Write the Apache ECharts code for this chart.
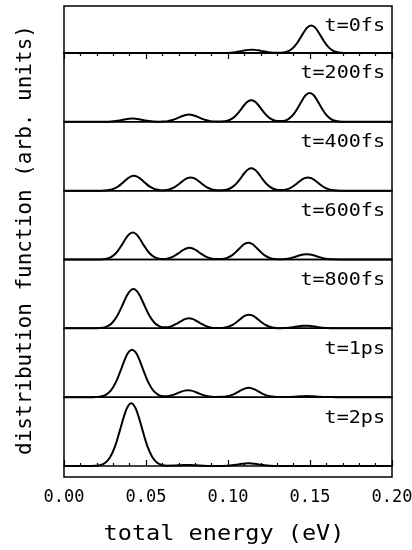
<!DOCTYPE html>
<html><head><meta charset="utf-8">
<script src="https://cdn.jsdelivr.net/npm/echarts@6/dist/echarts.min.js"></script>
<style>html,body{margin:0;padding:0;background:#fff}#c{width:412px;height:550px}</style>
</head><body><div id="c"></div>
<script>
// panel labels (top to bottom)
const panelLabels = ['t=0fs','t=200fs','t=400fs','t=600fs','t=800fs','t=1ps','t=2ps'];
// [total energy (eV), distribution function (arb. units; one panel height = 100)]
const f0fs = [[0,0],[0.0945,0],[0.0985,0.13],[0.1015,0.46],[0.1045,1.2],[0.1075,2.43],[0.1105,3.84],[0.1125,4.54],[0.1145,4.8],[0.1165,4.54],[0.1185,3.84],[0.1215,2.43],[0.1245,1.2],[0.1275,0.46],[0.1305,0.3],
  [0.1347,1.1],[0.1377,3.84],[0.1407,9.96],[0.1437,20.2],[0.1467,32.0],[0.1487,37.8],[0.1507,40],[0.1527,37.8],[0.1547,32.0],[0.1577,20.2],[0.1607,9.96],[0.1637,3.84],[0.1667,1.12],[0.1707,0.1],[0.2,0]];
const f200fs = [[0,0],[0.0217,0],[0.0257,0.13],[0.0287,0.46],[0.0317,1.2],[0.0347,2.43],[0.0377,3.84],[0.0397,4.54],[0.0417,4.8],[0.0437,4.54],[0.0457,3.84],[0.0487,2.43],[0.0517,1.2],[0.0547,0.46],[0.0577,0.22],
  [0.0602,0.34],[0.0632,1.02],[0.0662,2.64],[0.0692,5.36],[0.0722,8.49],[0.0742,10.03],[0.0762,10.6],[0.0782,10.03],[0.0802,8.49],[0.0832,5.36],[0.0862,2.64],[0.0892,1.02],[0.0922,0.34],
  [0.0982,0.89],[0.1012,3.01],[0.1042,7.82],[0.1072,15.9],[0.1102,25.2],[0.1122,29.7],[0.1142,31.4],[0.1162,29.7],[0.1182,25.2],[0.1212,15.9],[0.1242,7.82],[0.1272,3.01],[0.1302,1.08],
  [0.1338,1.33],[0.1368,4.03],[0.1398,10.5],[0.1428,21.3],[0.1458,33.6],[0.1478,39.7],[0.1498,42],[0.1518,39.7],[0.1538,33.6],[0.1568,21.3],[0.1598,10.5],[0.1628,4.03],[0.1658,1.18],[0.1698,0.1],[0.2,0]];
const f400fs = [[0,0],[0.0226,0],[0.0266,0.61],[0.0296,2.08],[0.0326,5.40],[0.0356,11.0],[0.0386,17.4],[0.0406,20.5],[0.0426,21.7],[0.0446,20.5],[0.0466,17.4],[0.0496,11.0],[0.0526,5.40],[0.0556,2.08],[0.0586,0.77],
  [0.0612,0.72],[0.0642,1.85],[0.0672,4.81],[0.0702,9.77],[0.0732,15.5],[0.0752,18.3],[0.0772,19.3],[0.0792,18.3],[0.0812,15.5],[0.0842,9.77],[0.0872,4.81],[0.0902,1.85],[0.0932,0.61],
  [0.0982,0.95],[0.1012,3.11],[0.1042,8.07],[0.1072,16.4],[0.1102,26.0],[0.1122,30.7],[0.1142,32.4],[0.1162,30.7],[0.1182,26.0],[0.1212,16.4],[0.1242,8.07],[0.1272,3.11],[0.1302,1.08],
  [0.1327,0.82],[0.1357,1.85],[0.1387,4.81],[0.1417,9.77],[0.1447,15.5],[0.1467,18.3],[0.1487,19.3],[0.1507,18.3],[0.1527,15.5],[0.1557,9.77],[0.1587,4.81],[0.1617,1.85],[0.1647,0.54],[0.1687,0],[0.2,0]];
const f600fs = [[0,0],[0.0219,0],[0.0259,1.09],[0.0289,3.75],[0.0319,9.74],[0.0349,19.8],[0.0379,31.3],[0.0399,37.0],[0.0419,39.1],[0.0439,37.0],[0.0459,31.3],[0.0489,19.8],[0.0519,9.74],[0.0549,3.75],[0.0579,1.23],
  [0.0605,0.79],[0.0635,1.62],[0.0665,4.21],[0.0695,8.55],[0.0725,13.5],[0.0745,16.0],[0.0765,16.9],[0.0785,16.0],[0.0805,13.5],[0.0835,8.55],[0.0865,4.21],[0.0895,1.62],[0.0925,0.57],
  [0.0964,0.75],[0.0994,2.32],[0.1024,6.03],[0.1054,12.2],[0.1084,19.4],[0.1104,22.9],[0.1124,24.2],[0.1144,22.9],[0.1164,19.4],[0.1194,12.2],[0.1224,6.03],[0.1254,2.32],[0.1284,0.72],
  [0.132,0.34],[0.135,0.74],[0.138,1.92],[0.141,3.90],[0.144,6.17],[0.146,7.28],[0.148,7.7],[0.150,7.28],[0.152,6.17],[0.155,3.90],[0.158,1.92],[0.161,0.74],[0.164,0.22],[0.168,0],[0.2,0]];
const f800fs = [[0,0],[0.0183,0],[0.0203,0.19],[0.0233,0.80],[0.0263,2.74],[0.0293,7.70],[0.0323,17.4],[0.0353,31.9],[0.0383,47.2],[0.0403,54.4],[0.0423,57],[0.0443,54.4],[0.0463,47.2],[0.0493,31.9],[0.0523,17.4],[0.0553,7.70],[0.0583,2.91],
  [0.0602,1.70],[0.0632,1.71],[0.0662,3.68],[0.0692,7.34],[0.0722,11.6],[0.0742,13.7],[0.0762,14.5],[0.0782,13.7],[0.0802,11.6],[0.0832,7.34],[0.0862,3.61],[0.0892,1.39],[0.0922,0.46],
  [0.0968,0.59],[0.0998,1.90],[0.1028,4.93],[0.1058,10.0],[0.1088,15.9],[0.1108,18.7],[0.1128,19.8],[0.1148,18.7],[0.1168,15.9],[0.1198,10.0],[0.1228,4.93],[0.1258,1.90],[0.1288,0.58],
  [0.1314,0.27],[0.1344,0.37],[0.1374,0.97],[0.1404,1.97],[0.1434,3.12],[0.1454,3.69],[0.1474,3.9],[0.1494,3.69],[0.1514,3.12],[0.1544,1.97],[0.1574,0.97],[0.1604,0.37],[0.1634,0.11],[0.1674,0],[0.2,0]];
const f1ps = [[0,0],[0.0175,0],[0.0195,0.23],[0.0225,0.97],[0.0255,3.31],[0.0285,9.32],[0.0315,21.1],[0.0345,38.6],[0.0375,57.1],[0.0395,65.8],[0.0415,69],[0.0435,65.8],[0.0455,57.1],[0.0485,38.6],[0.0515,21.1],[0.0545,9.32],[0.0575,3.41],
  [0.0596,1.71],[0.0626,1.31],[0.0656,2.56],[0.0686,5.06],[0.0716,8.01],[0.0736,9.46],[0.0756,10],[0.0776,9.46],[0.0796,8.01],[0.0826,5.06],[0.0856,2.49],[0.0886,0.96],[0.0916,0.31],
  [0.0966,0.40],[0.0996,1.30],[0.1026,3.36],[0.1056,6.83],[0.1086,10.8],[0.1106,12.8],[0.1126,13.5],[0.1146,12.8],[0.1166,10.8],[0.1196,6.83],[0.1226,3.36],[0.1256,1.30],[0.1286,0.39],
  [0.132,0.11],[0.135,0.14],[0.138,0.37],[0.141,0.76],[0.144,1.2],[0.146,1.42],[0.148,1.5],[0.150,1.42],[0.152,1.2],[0.155,0.76],[0.158,0.37],[0.161,0.14],[0.164,0.04],[0.168,0],[0.2,0]];
const f2ps = [[0,0],[0.013,0],[0.016,0.05],[0.019,0.30],[0.022,1.27],[0.025,4.37],[0.028,12.3],[0.031,27.8],[0.034,51.0],[0.037,75.3],[0.039,86.8],[0.041,91],[0.043,86.8],[0.045,75.3],[0.048,51.0],[0.051,27.8],[0.054,12.3],[0.057,4.37],[0.060,1.27],[0.063,0.5],
  [0.066,0.54],[0.068,0.76],[0.071,1.2],[0.073,1.42],[0.075,1.5],[0.077,1.42],[0.079,1.2],[0.082,0.76],[0.085,0.37],[0.088,0.14],[0.091,0.04],
  [0.0925,0],[0.0965,0.11],[0.0995,0.37],[0.1025,0.97],[0.1055,1.97],[0.1085,3.12],[0.1105,3.69],[0.1125,3.9],[0.1145,3.69],[0.1165,3.12],[0.1195,1.97],[0.1225,0.97],[0.1255,0.37],[0.1285,0.11],[0.1325,0],[0.2,0]];
// x tick labels
const xTickValues = [0, 0.05, 0.10, 0.15, 0.20];

const curves = [f0fs, f200fs, f400fs, f600fs, f800fs, f1ps, f2ps];
const FONT = '"DejaVu Sans Mono", monospace';
const L = 64, R = 392, TOP = 6, B0 = 53, STEP = 68.83, BOT = 477;
const grids = [], xAxes = [], yAxes = [], series = [], gfx = [];
const tickCfg = {
  axisLine: {show: true, lineStyle: {color: '#000', width: 1.5}},
  axisTick: {show: true, inside: true, length: 6, lineStyle: {color: '#000', width: 1.2}},
  minorTick: {show: true, splitNumber: 5, length: 3, lineStyle: {color: '#000', width: 1.2}},
  splitLine: {show: false}, minorSplitLine: {show: false}
};
for (let k = 0; k < curves.length; k++) {
  const base = B0 + STEP * k;
  const top = k === 0 ? TOP : base - STEP;
  const bottom = k === curves.length - 1 ? BOT : base;
  grids.push({left: L, width: R - L, top: top, height: bottom - top, show: true,
    borderColor: '#000', borderWidth: 1.5, backgroundColor: 'transparent',
    containLabel: false, outerBoundsMode: 'none'});
  yAxes.push({gridIndex: k, type: 'value', show: false,
    min: -(bottom - base) / STEP * 100, max: (base - top) / STEP * 100});
  const xa = {gridIndex: k, type: 'value', min: xTickValues[0], max: xTickValues[xTickValues.length - 1], interval: 0.05};
  if (k === 0) {
    Object.assign(xa, tickCfg, {position: 'top', axisLabel: {show: false}});
  } else if (k === curves.length - 1) {
    Object.assign(xa, tickCfg, {position: 'bottom', axisLabel: {show: true, color: '#000',
      fontFamily: FONT, fontSize: 17, margin: 12, formatter: v => v.toFixed(2)}});
  } else {
    xa.show = false;
  }
  xAxes.push(xa);
  series.push({type: 'line', xAxisIndex: k, yAxisIndex: k, smooth: 0.4, showSymbol: false,
    clip: false, lineStyle: {color: '#000', width: 2}, silent: true, data: curves[k]});
  gfx.push({type: 'text', x: 385, y: top + 21, scaleX: 1.18, silent: true,
    style: {text: panelLabels[k], font: '17px ' + FONT, fill: '#000',
      align: 'right', verticalAlign: 'middle', textAlign: 'right', textVerticalAlign: 'middle'}});
}
gfx.push({type: 'text', x: 224, y: 534, scaleX: 1.07, silent: true,
  style: {text: 'total energy (eV)', font: '22px ' + FONT, fill: '#000',
    align: 'center', verticalAlign: 'middle', textAlign: 'center', textVerticalAlign: 'middle'}});
gfx.push({type: 'text', x: 26, y: 240, rotation: Math.PI / 2, silent: true,
  style: {text: 'distribution function (arb. units)', font: '21px ' + FONT, fill: '#000',
    align: 'center', verticalAlign: 'middle', textAlign: 'center', textVerticalAlign: 'middle'}});

const chart = echarts.init(document.getElementById('c'), null, {renderer: 'canvas'});
chart.setOption({
  animation: false,
  backgroundColor: '#fff',
  grid: grids, xAxis: xAxes, yAxis: yAxes, series: series, graphic: gfx
});
</script></body></html>
